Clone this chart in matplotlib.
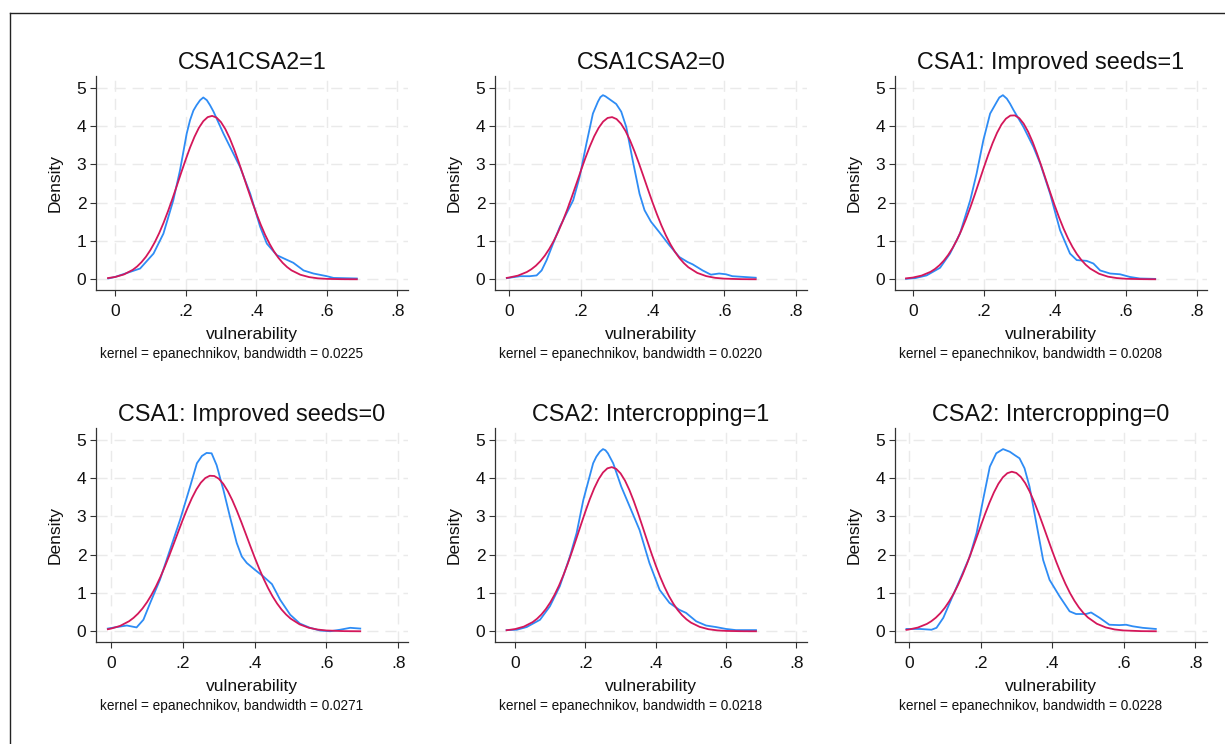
import matplotlib
matplotlib.use("Agg")
import matplotlib.pyplot as plt

plt.rcParams['font.family'] = ['Liberation Sans', 'DejaVu Sans']

# panel titles and bandwidth notes
titles = ["CSA1CSA2=1", "CSA1CSA2=0", "CSA1: Improved seeds=1",
          "CSA1: Improved seeds=0", "CSA2: Intercropping=1", "CSA2: Intercropping=0"]
bandwidths = ["0.0225", "0.0220", "0.0208", "0.0271", "0.0218", "0.0228"]

# kernel density curves
kde1_x = [-0.019, 0.0, 0.071, 0.109, 0.137, 0.165, 0.184, 0.203, 0.2125, 0.222, 0.231, 0.241, 0.250, 0.260,
          0.269, 0.279, 0.307, 0.335, 0.354, 0.383, 0.411, 0.430, 0.458, 0.486, 0.505, 0.534, 0.562, 0.600,
          0.619, 0.685]
kde1_y = [0.02, 0.06, 0.28, 0.67, 1.19, 2.06, 2.84, 3.80, 4.15, 4.40, 4.54, 4.67, 4.74, 4.67,
          4.54, 4.37, 3.80, 3.28, 2.93, 2.23, 1.37, 0.93, 0.63, 0.51, 0.43, 0.23, 0.15, 0.08,
          0.035, 0.02]

kde2_x = [-0.006, 0.031, 0.058, 0.077, 0.091, 0.105, 0.123, 0.142, 0.160, 0.179, 0.197, 0.216, 0.234, 0.248,
          0.255, 0.262, 0.269, 0.281, 0.299, 0.313, 0.327, 0.345, 0.364, 0.378, 0.396, 0.419, 0.447, 0.475,
          0.498, 0.512, 0.540, 0.563, 0.586, 0.605, 0.623, 0.688]
kde2_y = [0.03, 0.08, 0.08, 0.10, 0.23, 0.50, 0.93, 1.37, 1.71, 2.06, 2.67, 3.54, 4.32, 4.63,
          4.75, 4.80, 4.77, 4.69, 4.57, 4.37, 3.97, 3.10, 2.23, 1.80, 1.50, 1.23, 0.89, 0.58,
          0.45, 0.39, 0.23, 0.12, 0.15, 0.13, 0.08, 0.04]

kde3_x = [-0.019, 0.007, 0.039, 0.077, 0.105, 0.133, 0.162, 0.180, 0.199, 0.218, 0.237, 0.244, 0.254, 0.265,
          0.274, 0.284, 0.312, 0.340, 0.359, 0.387, 0.415, 0.443, 0.462, 0.490, 0.509, 0.528, 0.556, 0.584,
          0.612, 0.640, 0.683]
kde3_y = [0.01, 0.03, 0.10, 0.30, 0.67, 1.19, 2.06, 2.76, 3.63, 4.32, 4.63, 4.74, 4.80, 4.71,
          4.58, 4.41, 3.97, 3.45, 3.02, 2.23, 1.28, 0.67, 0.50, 0.48, 0.41, 0.23, 0.15, 0.13,
          0.06, 0.02, 0.01]

kde4_x = [-0.009, 0.016, 0.044, 0.071, 0.090, 0.109, 0.136, 0.164, 0.192, 0.220, 0.239, 0.253, 0.266, 0.280,
          0.294, 0.313, 0.331, 0.350, 0.364, 0.378, 0.401, 0.424, 0.448, 0.471, 0.499, 0.526, 0.554, 0.582,
          0.610, 0.638, 0.666, 0.694]
kde4_y = [0.07, 0.11, 0.15, 0.10, 0.30, 0.74, 1.34, 2.12, 2.90, 3.77, 4.38, 4.57, 4.65, 4.64,
          4.33, 3.68, 2.99, 2.30, 1.95, 1.78, 1.60, 1.43, 1.23, 0.82, 0.43, 0.20, 0.09, 0.02,
          0.00, 0.04, 0.09, 0.07]

kde5_x = [-0.024, 0.005, 0.033, 0.071, 0.099, 0.127, 0.156, 0.175, 0.194, 0.222, 0.231, 0.241, 0.250, 0.257,
          0.264, 0.279, 0.302, 0.326, 0.354, 0.382, 0.411, 0.439, 0.467, 0.486, 0.515, 0.543, 0.571, 0.600,
          0.628, 0.685]
kde5_y = [0.03, 0.04, 0.11, 0.30, 0.65, 1.17, 1.95, 2.56, 3.42, 4.38, 4.55, 4.68, 4.75, 4.72,
          4.64, 4.38, 3.77, 3.25, 2.64, 1.78, 1.08, 0.74, 0.56, 0.48, 0.26, 0.15, 0.11, 0.06,
          0.03, 0.03]

kde6_x = [-0.007, 0.031, 0.063, 0.077, 0.096, 0.114, 0.142, 0.170, 0.189, 0.207, 0.226, 0.244, 0.263, 0.282,
          0.296, 0.309, 0.323, 0.337, 0.356, 0.375, 0.393, 0.421, 0.449, 0.467, 0.495, 0.509, 0.533, 0.560,
          0.588, 0.607, 0.625, 0.653, 0.690]
kde6_y = [0.06, 0.06, 0.04, 0.09, 0.35, 0.74, 1.34, 1.95, 2.56, 3.42, 4.29, 4.64, 4.75, 4.68,
          4.59, 4.51, 4.25, 3.77, 2.82, 1.86, 1.34, 0.91, 0.52, 0.45, 0.45, 0.49, 0.35, 0.17,
          0.16, 0.17, 0.13, 0.09, 0.06]

# normal density overlays
norm_mid = [0.0, 0.025, 0.05, 0.0625, 0.075, 0.0875, 0.1, 0.1125, 0.125, 0.1375, 0.15, 0.1625, 0.175,
            0.1875, 0.2, 0.2125, 0.225, 0.2375, 0.25, 0.2625, 0.275, 0.2875, 0.3, 0.3125, 0.325, 0.3375,
            0.35, 0.3625, 0.375, 0.3875, 0.4, 0.4125, 0.425, 0.4375, 0.45, 0.4625, 0.475, 0.4875, 0.5,
            0.525, 0.55, 0.575, 0.6, 0.65]
norm1_x = [-0.020] + norm_mid + [0.685]
norm1_y = [0.031, 0.059, 0.125, 0.245, 0.333, 0.447, 0.587, 0.760, 0.965, 1.203, 1.474, 1.774, 2.098, 2.438,
           2.782, 3.118, 3.435, 3.714, 3.949, 4.122, 4.228, 4.260, 4.216, 4.099, 3.915, 3.674, 3.386, 3.066,
           2.727, 2.383, 2.046, 1.725, 1.429, 1.162, 0.929, 0.730, 0.563, 0.427, 0.318, 0.232, 0.118, 0.056,
           0.024, 0.010, 0.001, 0.0]
norm2_x = [-0.006] + norm_mid + [0.688]
norm2_y = [0.036, 0.044, 0.095, 0.190, 0.262, 0.354, 0.472, 0.617, 0.794, 1.002, 1.245, 1.518, 1.819, 2.143,
           2.479, 2.818, 3.148, 3.455, 3.726, 3.948, 4.111, 4.206, 4.228, 4.177, 4.054, 3.866, 3.623, 3.335,
           3.018, 2.683, 2.343, 2.010, 1.696, 1.405, 1.144, 0.915, 0.719, 0.555, 0.422, 0.314, 0.166, 0.082,
           0.037, 0.016, 0.002, 0.0]
norm3_x = [-0.019] + norm_mid + [0.683]
norm3_y = [0.023, 0.044, 0.096, 0.193, 0.267, 0.363, 0.485, 0.636, 0.819, 1.035, 1.287, 1.570, 1.881, 2.215,
           2.560, 2.906, 3.241, 3.550, 3.819, 4.035, 4.187, 4.268, 4.273, 4.201, 4.057, 3.848, 3.585, 3.280,
           2.948, 2.601, 2.255, 1.921, 1.606, 1.319, 1.064, 0.843, 0.656, 0.502, 0.377, 0.278, 0.143, 0.068,
           0.031, 0.013, 0.002, 0.0]
norm4_x = [-0.009] + norm_mid + [0.694]
norm4_y = [0.053, 0.070, 0.139, 0.261, 0.349, 0.459, 0.594, 0.757, 0.948, 1.169, 1.417, 1.691, 1.985, 2.292,
           2.605, 2.913, 3.206, 3.470, 3.697, 3.875, 3.996, 4.055, 4.048, 3.977, 3.844, 3.655, 3.421, 3.149,
           2.853, 2.543, 2.230, 1.924, 1.634, 1.365, 1.122, 0.907, 0.722, 0.565, 0.436, 0.330, 0.181, 0.093,
           0.045, 0.020, 0.003, 0.0]
norm5_x = [-0.024] + norm_mid + [0.685]
norm5_y = [0.026, 0.057, 0.121, 0.238, 0.326, 0.438, 0.578, 0.749, 0.954, 1.192, 1.464, 1.766, 2.092, 2.435,
           2.782, 3.123, 3.443, 3.727, 3.964, 4.140, 4.248, 4.280, 4.235, 4.116, 3.930, 3.685, 3.394, 3.070,
           2.727, 2.380, 2.039, 1.716, 1.419, 1.153, 0.918, 0.720, 0.553, 0.418, 0.310, 0.226, 0.114, 0.053,
           0.023, 0.009, 0.001, 0.0]
norm6_x = [-0.007] + norm_mid + [0.690]
norm6_y = [0.037, 0.046, 0.097, 0.191, 0.262, 0.353, 0.468, 0.609, 0.780, 0.981, 1.214, 1.478, 1.767, 2.078,
           2.402, 2.731, 3.051, 3.352, 3.621, 3.846, 4.015, 4.122, 4.160, 4.128, 4.026, 3.862, 3.641, 3.375,
           3.076, 2.756, 2.429, 2.103, 1.791, 1.499, 1.234, 0.998, 0.795, 0.621, 0.478, 0.361, 0.196, 0.100,
           0.047, 0.021, 0.003, 0.0]

kde_x = [kde1_x, kde2_x, kde3_x, kde4_x, kde5_x, kde6_x]
kde_y = [kde1_y, kde2_y, kde3_y, kde4_y, kde5_y, kde6_y]
norm_x = [norm1_x, norm2_x, norm3_x, norm4_x, norm5_x, norm6_x]
norm_y = [norm1_y, norm2_y, norm3_y, norm4_y, norm5_y, norm6_y]

xticks = [0, 0.2, 0.4, 0.6, 0.8]
xticklabels = ["0", ".2", ".4", ".6", ".8"]
yticks = [0, 1, 2, 3, 4, 5]

# layout (pixels of a 1225x744 canvas)
W, H = 1225, 744
col_left = [96, 495, 895]
row_bottom = [290, 642]
ax_w, ax_h = 312, 214
xlims = [(-0.054, 0.830), (-0.039, 0.831), (-0.050, 0.829),
         (-0.042, 0.827), (-0.057, 0.830), (-0.039, 0.833)]

fig = plt.figure(figsize=(W / 100, H / 100), dpi=100)

# outer frame (only top and left visible in the crop)
fig.add_artist(plt.Line2D([9.5 / W, 1.0], [1 - 12.5 / H, 1 - 12.5 / H], color="#222222", lw=1.0))
fig.add_artist(plt.Line2D([9.5 / W, 9.5 / W], [0.0, 1 - 12.5 / H], color="#222222", lw=1.0))

grid_col = "#eaeaea"
axis_col = "#333333"
text_col = "#111111"

for i in range(6):
    r, c = divmod(i, 3)
    left = col_left[c]
    bottom = row_bottom[r]
    ax = fig.add_axes([left / W, 1 - bottom / H, ax_w / W, ax_h / H])

    for xt in xticks:
        ax.axvline(xt, color=grid_col, lw=1.0, ls=(0, (8, 5)), zorder=0)
    for yt in yticks:
        ax.axhline(yt, color=grid_col, lw=1.0, ls=(0, (8, 5)), zorder=0)

    ax.plot(kde_x[i], kde_y[i], color="#2e8cf5", lw=1.3, zorder=3)
    ax.plot(norm_x[i], norm_y[i], color="#d4175a", lw=1.3, zorder=4)

    ax.set_xlim(*xlims[i])
    ax.set_ylim(-0.28, 5.30)
    ax.set_xticks(xticks)
    ax.set_xticklabels(xticklabels)
    ax.set_yticks(yticks)

    for s in ["top", "right"]:
        ax.spines[s].set_visible(False)
    for s in ["left", "bottom"]:
        ax.spines[s].set_color(axis_col)
        ax.spines[s].set_linewidth(0.9)
    ax.tick_params(axis="x", direction="out", length=4.5, width=0.8, color=axis_col,
                   labelsize=12.5, labelcolor=text_col, pad=5.5)
    ax.tick_params(axis="y", direction="out", length=4.5, width=0.8, color=axis_col,
                   labelsize=12.5, labelcolor=text_col, pad=2.5)

    ax.set_title(titles[i], fontsize=16.8, pad=5, color=text_col)
    ax.set_ylabel("Density", fontsize=12.5, color=text_col, labelpad=10)
    ax.set_xlabel("vulnerability", fontsize=12.5, color=text_col, labelpad=5.5)

    fig.text((left + 4) / W, 1 - (bottom + 64) / H,
             "kernel = epanechnikov, bandwidth = " + bandwidths[i],
             fontsize=9.8, color=text_col, ha="left", va="center")

plt.savefig("out.png", dpi=100)
